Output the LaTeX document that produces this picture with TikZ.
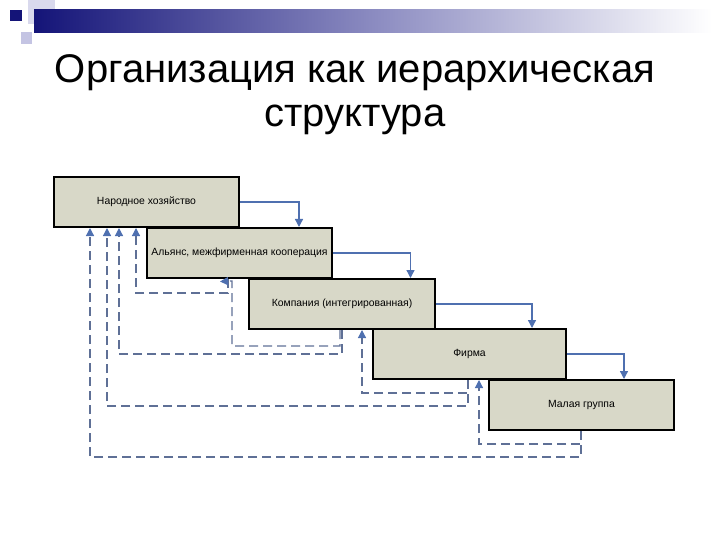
\documentclass[tikz,border=0pt]{standalone}
\usepackage{fontspec}
\setmainfont{Liberation Sans}
\usetikzlibrary{arrows.meta}
\definecolor{boxfill}{RGB}{216,216,200}
\definecolor{flowblue}{RGB}{79,112,176}
\definecolor{backblue}{RGB}{95,112,150}
\definecolor{navy}{RGB}{20,20,120}
\definecolor{lavender}{RGB}{170,170,215}

\begin{document}
\begin{tikzpicture}[x=1pt,y=-1pt,>=Stealth,
    level/.style={draw=black,line width=2pt,fill=boxfill,minimum height=50pt,
        inner sep=0pt,font=\fontsize{10.4}{12}\selectfont},
    flow/.style={draw=flowblue,line width=1.3pt,-{Triangle[length=8pt,width=8pt,color=flowblue]}},
    back/.style={draw=backblue,line width=1.2pt,dash pattern=on 9pt off 5pt,
        -{Triangle[length=8pt,width=8pt,color=flowblue]}}]
    \useasboundingbox (0,0) rectangle (720,540);

    % Kopfleiste
    \fill[lavender!45] (28,0) rectangle (55,24);
    \shade[left color=navy,right color=white,middle color=navy!40!lavender!80] (34,10) rectangle (712,33);
    \fill[lavender!70] (21,32) rectangle (32,44);
    \fill[navy] (10,10) rectangle (22,21);

    % Titel
    \node[font=\fontsize{40}{46}\selectfont] (titel1) at (355,73) {Организация как иерархическая};
    \node[font=\fontsize{40}{46}\selectfont] (titel2) at (355,120) {структура};

    % Ebenen
    \node[level,minimum width=185pt] (nh) at (146.5,202) {Народное хозяйство};
    \node[level,minimum width=185pt] (al) at (239.5,253) {Альянс, межфирменная кооперация};
    \node[level,minimum width=186pt] (km) at (342,304) {Компания (интегрированная)};
    \node[level,minimum width=193pt] (fi) at (469.5,354) {Фирма};
    \node[level,minimum width=185pt] (mg) at (581.5,405) {Малая группа};

    % Abwaerts
    \draw[flow] (nh.east) -| ([xshift=59.5]al.north);
    \draw[flow] (al.east) -| ([xshift=68.5]km.north);
    \draw[flow] (km.east) -| ([xshift=62.5]fi.north);
    \draw[flow] (fi.east) -| ([xshift=42.5]mg.north);

    % Rueckkopplung
    \draw[back] ([xshift=-11.5]al.south) -- ++(0,14) -| ([xshift=-10.5]nh.south);
    \draw[back] ([xshift=-2]km.south) -- ++(0,16) -| (232,281) -- ([xshift=-19.5,yshift=-2.5]al.south);
    \draw[back] ([xshift=0]km.south) -- ++(0,24) -| ([xshift=-27.5]nh.south);
    \draw[back] ([xshift=-1.5]fi.south) -- ++(0,13) -| ([xshift=20]km.south);
    \draw[back] ([xshift=-1.5]fi.south) -- ++(0,26) -| ([xshift=-39.5]nh.south);
    \draw[back] ([xshift=-0.5]mg.south) -- ++(0,13) -| ([xshift=9.5]fi.south);
    \draw[back] ([xshift=-0.5]mg.south) -- ++(0,26) -| ([xshift=-56.5]nh.south);
\end{tikzpicture}
\end{document}
